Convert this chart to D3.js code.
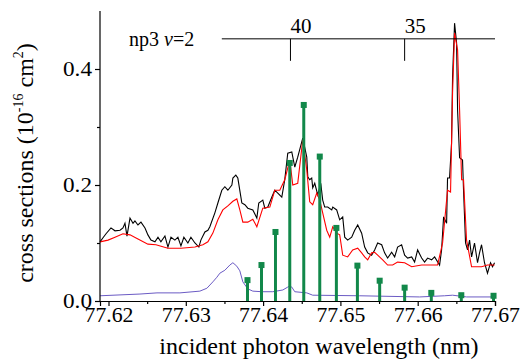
<!DOCTYPE html>
<html>
<head>
<meta charset="utf-8">
<script src="https://cdn.jsdelivr.net/npm/d3@7/dist/d3.min.js"></script>
<style>
  body { margin: 0; background: #fff; }
  svg { display: block; }
  svg text { font-family: "Liberation Serif", "Times New Roman", serif; fill: #000; }
</style>
</head>
<body>
<svg id="chart" width="521" height="362"></svg>
<script>
// Data (wavelength in nm, cross section in 1e-16 cm^2)
const totalSignal = [
  [77.6189, 0.102], [77.61929, 0.109], [77.61968, 0.116], [77.62032, 0.126], [77.62084, 0.121],
  [77.62149, 0.122], [77.62187, 0.126], [77.62213, 0.134], [77.62239, 0.112], [77.62278, 0.143],
  [77.62317, 0.134], [77.62342, 0.138], [77.62381, 0.131], [77.6242, 0.136], [77.62472, 0.126],
  [77.6251, 0.114], [77.62549, 0.105], [77.62601, 0.102], [77.6264, 0.110], [77.62678, 0.102],
  [77.6273, 0.112], [77.62769, 0.093], [77.62808, 0.110], [77.62859, 0.105], [77.62898, 0.110],
  [77.62937, 0.095], [77.62975, 0.110], [77.63027, 0.100], [77.63066, 0.110], [77.63118, 0.100],
  [77.63169, 0.093], [77.63195, 0.105], [77.63247, 0.119], [77.63286, 0.122], [77.63311, 0.128],
  [77.63376, 0.152], [77.63415, 0.169], [77.63466, 0.191], [77.63505, 0.197], [77.63544, 0.191],
  [77.63596, 0.200], [77.63609, 0.212], [77.63647, 0.217], [77.63673, 0.212], [77.63725, 0.169],
  [77.63764, 0.166], [77.63802, 0.160], [77.63867, 0.157], [77.63919, 0.143], [77.63944, 0.169],
  [77.63996, 0.174], [77.64022, 0.160], [77.64061, 0.162], [77.64112, 0.179], [77.64151, 0.191],
  [77.6419, 0.186], [77.64242, 0.179], [77.6428, 0.209], [77.64319, 0.255], [77.64371, 0.257],
  [77.6441, 0.231], [77.64448, 0.248], [77.64513, 0.281], [77.64565, 0.248], [77.64578, 0.214],
  [77.64603, 0.209], [77.64629, 0.212], [77.64642, 0.195], [77.64668, 0.203], [77.64707, 0.183],
  [77.64746, 0.203], [77.64771, 0.174], [77.64797, 0.162], [77.64836, 0.162], [77.64888, 0.157],
  [77.64901, 0.162], [77.64952, 0.157], [77.64991, 0.140], [77.6503, 0.145], [77.65056, 0.110],
  [77.65094, 0.105], [77.65146, 0.110], [77.65185, 0.122], [77.65224, 0.131], [77.65275, 0.117],
  [77.65314, 0.093], [77.65353, 0.083], [77.65404, 0.079], [77.65443, 0.088], [77.65482, 0.100],
  [77.65534, 0.097], [77.65572, 0.083], [77.65611, 0.074], [77.65663, 0.084], [77.65702, 0.076],
  [77.6574, 0.093], [77.65792, 0.097], [77.65831, 0.079], [77.6587, 0.074], [77.65922, 0.076],
  [77.6596, 0.067], [77.65999, 0.088], [77.66051, 0.074], [77.66089, 0.067], [77.66128, 0.074],
  [77.6618, 0.071], [77.66219, 0.076], [77.66283, 0.062], [77.66309, 0.088], [77.66335, 0.145],
  [77.66374, 0.134], [77.66386, 0.212], [77.66412, 0.212], [77.66438, 0.272], [77.66451, 0.386],
  [77.66477, 0.479], [77.66503, 0.445], [77.66516, 0.329], [77.66542, 0.247], [77.6658, 0.243],
  [77.66593, 0.191], [77.66619, 0.100], [77.66645, 0.088], [77.66671, 0.105], [77.66697, 0.076],
  [77.66735, 0.100], [77.66774, 0.066], [77.668, 0.083], [77.66826, 0.097], [77.66864, 0.066],
  [77.66903, 0.048], [77.66942, 0.066], [77.66968, 0.059], [77.66994, 0.066]
];

const fittedSignal = [
  [77.6189, 0.102], [77.61994, 0.105], [77.62084, 0.110], [77.62187, 0.116], [77.62278, 0.114],
  [77.62381, 0.107], [77.6251, 0.098], [77.62614, 0.097], [77.62769, 0.091], [77.62937, 0.091],
  [77.63118, 0.093], [77.63221, 0.097], [77.63286, 0.102], [77.6335, 0.117], [77.63415, 0.140],
  [77.63479, 0.157], [77.63544, 0.164], [77.63609, 0.172], [77.6366, 0.176], [77.63699, 0.157],
  [77.63738, 0.136], [77.63802, 0.136], [77.63867, 0.141], [77.63919, 0.128], [77.63996, 0.160],
  [77.64087, 0.162], [77.64151, 0.191], [77.64216, 0.191], [77.6428, 0.209], [77.64345, 0.243],
  [77.64384, 0.200], [77.64448, 0.203], [77.64513, 0.278], [77.64565, 0.226], [77.64603, 0.171],
  [77.64642, 0.166], [77.64694, 0.186], [77.64733, 0.174], [77.64771, 0.152], [77.64823, 0.122],
  [77.64862, 0.110], [77.64901, 0.128], [77.64952, 0.117], [77.64991, 0.114], [77.6503, 0.079],
  [77.65094, 0.076], [77.65159, 0.088], [77.65224, 0.091], [77.65275, 0.083], [77.65314, 0.076],
  [77.65353, 0.071], [77.65404, 0.083], [77.65443, 0.084], [77.65482, 0.079], [77.65547, 0.071],
  [77.65611, 0.062], [77.65676, 0.062], [77.6574, 0.067], [77.65831, 0.066], [77.65922, 0.059],
  [77.66051, 0.062], [77.6618, 0.062], [77.66257, 0.062], [77.66322, 0.100], [77.66386, 0.191],
  [77.66425, 0.188], [77.66451, 0.359], [77.66477, 0.462], [77.66516, 0.433], [77.66542, 0.329],
  [77.66568, 0.209], [77.66593, 0.209], [77.66632, 0.105], [77.66697, 0.059], [77.66826, 0.059],
  [77.66903, 0.062], [77.66994, 0.062]
];

const backgroundSignal = [
  [77.6189, 0.009], [77.62407, 0.012], [77.62627, 0.014], [77.62924, 0.014], [77.63182, 0.017],
  [77.63273, 0.022], [77.6335, 0.033], [77.63402, 0.041], [77.63441, 0.048], [77.63505, 0.053],
  [77.6357, 0.062], [77.63609, 0.066], [77.6366, 0.060], [77.63699, 0.052], [77.63738, 0.033],
  [77.63802, 0.021], [77.63867, 0.017], [77.63983, 0.016], [77.64125, 0.016], [77.64255, 0.019],
  [77.64319, 0.024], [77.64345, 0.026], [77.64371, 0.024], [77.6441, 0.016], [77.64565, 0.014],
  [77.64642, 0.010], [77.65249, 0.009], [77.66025, 0.007], [77.66348, 0.009], [77.66451, 0.010],
  [77.66632, 0.007], [77.66994, 0.007]
];

// Calculated line intensities (stick spectrum)
const stickWavelengths = [77.63798, 77.63979, 77.6416, 77.64345, 77.64526, 77.64733, 77.64948,
  77.6522, 77.65508, 77.65831, 77.66176, 77.66564, 77.66981];
const stickValues = [0.036, 0.062, 0.119, 0.238, 0.338, 0.249, 0.126, 0.061, 0.035, 0.023,
  0.014, 0.010, 0.009];

// Rydberg series marker (np3, v=2)
const seriesLabel = 'np3';
const seriesStart = 77.63466;
const seriesTicks = [
  { n: '40', wl: 77.64354 },
  { n: '35', wl: 77.65831 },
];

const xTicks = [77.62, 77.63, 77.64, 77.65, 77.66, 77.67];
const yTicks = [0.0, 0.2, 0.4];

// Layout
const LEFT = 100;
const RIGHT = 495;
const TOP = 11;
const BOTTOM = 301;
const FONT = '"Liberation Serif", "Times New Roman", serif';

const svg = d3.select('#chart');

const x = d3.scaleLinear([77.6189, 77.67], [LEFT, RIGHT]);
const y = d3.scaleLinear([0, 0.5], [BOTTOM, TOP]);

const line = d3.line()
  .x((d) => x(d[0]))
  .y((d) => y(d[1]));

// Curves
svg.append('path')
  .datum(backgroundSignal)
  .attr('fill', 'none')
  .attr('stroke', '#6b5bc4')
  .attr('stroke-width', 1)
  .attr('d', line);

svg.append('path')
  .datum(totalSignal)
  .attr('fill', 'none')
  .attr('stroke', '#000')
  .attr('stroke-width', 1.1)
  .attr('d', line);

svg.append('path')
  .datum(fittedSignal)
  .attr('fill', 'none')
  .attr('stroke', '#ff0000')
  .attr('stroke-width', 1.1)
  .attr('d', line);

// Sticks
const sticks = svg.append('g')
  .selectAll('g')
  .data(stickWavelengths.map((wl, i) => ({ wl, v: stickValues[i] })))
  .enter()
  .append('g');

sticks.append('line')
  .attr('x1', (d) => x(d.wl))
  .attr('x2', (d) => x(d.wl))
  .attr('y1', y(0))
  .attr('y2', (d) => y(d.v))
  .attr('stroke', '#12884a')
  .attr('stroke-width', 3);

sticks.append('rect')
  .attr('x', (d) => x(d.wl) - 3)
  .attr('y', (d) => y(d.v) - 3)
  .attr('width', 6)
  .attr('height', 6)
  .attr('fill', '#12884a');

// Axes
const gx = svg.append('g')
  .attr('transform', `translate(0, ${BOTTOM})`)
  .call(d3.axisBottom(x)
    .tickValues(xTicks)
    .tickFormat(d3.format('.2f'))
    .tickSizeOuter(0)
    .tickSize(5)
    .tickPadding(1));

// minor x ticks
svg.append('g')
  .attr('transform', `translate(0, ${BOTTOM})`)
  .call(d3.axisBottom(x)
    .tickValues(xTicks.slice(0, -1).map((t) => t + 0.005))
    .tickFormat('')
    .tickSizeOuter(0)
    .tickSize(3))
  .select('.domain').remove();

const gy = svg.append('g')
  .attr('transform', `translate(${LEFT}, 0)`)
  .call(d3.axisLeft(y)
    .tickValues(yTicks)
    .tickFormat(d3.format('.1f'))
    .tickSizeOuter(0)
    .tickSize(5)
    .tickPadding(3));

svg.append('g')
  .attr('transform', `translate(${LEFT}, 0)`)
  .call(d3.axisLeft(y)
    .tickValues([0.1, 0.3])
    .tickFormat('')
    .tickSizeOuter(0)
    .tickSize(3))
  .select('.domain').remove();

// y axis line spans the full range
gy.select('.domain').attr('d', `M0,${TOP}V${BOTTOM}`);

svg.selectAll('g').attr('font-family', null);
svg.selectAll('.tick text')
  .style('font-family', FONT)
  .style('font-size', '21px');
gx.selectAll('.tick text')
  .attr('textLength', 49)
  .attr('lengthAdjust', 'spacingAndGlyphs');
gy.selectAll('.tick text')
  .attr('textLength', 29)
  .attr('lengthAdjust', 'spacingAndGlyphs');
svg.selectAll('.domain, .tick line').attr('stroke', '#000').attr('stroke-width', 1.2);

// Axis titles
svg.append('text')
  .attr('x', 319)
  .attr('y', 354)
  .attr('text-anchor', 'middle')
  .style('font-size', '24px')
  .text('incident photon wavelength (nm)');

const yTitle = svg.append('text')
  .attr('transform', `translate(33, 163) rotate(-90)`)
  .attr('text-anchor', 'middle')
  .style('font-size', '24px');
yTitle.append('tspan').text('cross sections (10');
yTitle.append('tspan').attr('dy', -10).style('font-size', '14px').text('-16');
yTitle.append('tspan').attr('dy', 10).text(' cm');
yTitle.append('tspan').attr('dy', -10).style('font-size', '14px').text('2');
yTitle.append('tspan').attr('dy', 10).text(')');

// Series annotation
const seriesY = y(0.452);
svg.append('line')
  .attr('x1', x(seriesStart))
  .attr('x2', RIGHT)
  .attr('y1', seriesY)
  .attr('y2', seriesY)
  .attr('stroke', '#000')
  .attr('stroke-width', 1);

const seriesText = svg.append('text')
  .attr('x', 129)
  .attr('y', seriesY + 7)
  .style('font-size', '20px');
seriesText.append('tspan').text(seriesLabel + ' ');
seriesText.append('tspan').style('font-style', 'italic').text('v');
seriesText.append('tspan').text('=2');

const st = svg.append('g')
  .selectAll('g')
  .data(seriesTicks)
  .enter()
  .append('g');

st.append('line')
  .attr('x1', (d) => x(d.wl))
  .attr('x2', (d) => x(d.wl))
  .attr('y1', seriesY)
  .attr('y2', seriesY + 22)
  .attr('stroke', '#000')
  .attr('stroke-width', 1);

st.append('text')
  .attr('x', (d) => x(d.wl))
  .attr('y', seriesY - 6)
  .style('font-size', '21px')
  .text((d) => d.n);
</script>
</body>
</html>
